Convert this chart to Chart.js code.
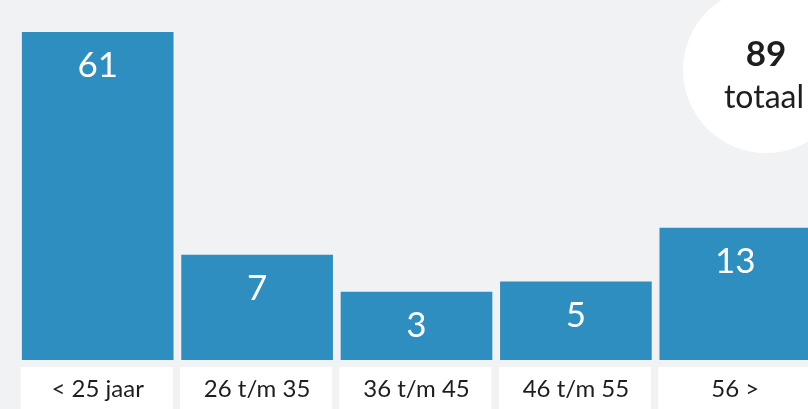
<!DOCTYPE html>
<html>
<head>
<meta charset="utf-8">
<script src="https://cdn.jsdelivr.net/npm/chart.js@4"></script>
<style>
  html, body { margin: 0; padding: 0; overflow: hidden; background: #f1f2f4; }
  #wrap { position: relative; width: 815px; height: 409px; }
  #total {
    position: absolute; left: 683px; top: -13px; width: 166px; height: 166px;
    border-radius: 50%; background: #ffffff; font-family: Lato, "Noto Sans", sans-serif;
    color: #1e1e1e; text-align: center;
  }
  #total .num { position: absolute; left: 0; width: 166px; top: 48px; font-size: 35px; font-weight: bold; line-height: 1; }
  #total .lbl { position: absolute; left: -2px; width: 166px; top: 93px; font-size: 32px; line-height: 1; }
</style>
</head>
<body>
<div id="wrap">
  <canvas id="c"></canvas>
  <div id="total"><div class="num" id="totNum"></div><div class="lbl" id="totLbl"></div></div>
</div>
<script>
// Categories (age groups)
const categories = ["< 25 jaar", "26 t/m 35", "36 t/m 45", "46 t/m 55", "56 >"];
// Counts printed on the bars
const counts = [61, 7, 3, 5, 13];
// Drawn bar lengths (percent of tallest bar)
const barLengths = [100, 32.0, 20.7, 23.8, 40.2];
const totalLabel = "totaal";

document.getElementById('totNum').textContent = counts.reduce((a, b) => a + b, 0);
document.getElementById('totLbl').textContent = totalLabel;

const boxPlugin = {
  id: 'boxes',
  beforeDraw(chart) {
    const ctx = chart.ctx;
    const x = chart.scales.x;
    ctx.save();
    ctx.fillStyle = '#ffffff';
    categories.forEach((c, i) => {
      const cx = x.getPixelForValue(i);
      ctx.fillRect(cx - 77, chart.chartArea.bottom + 7, 152, 60);
    });
    ctx.restore();
  }
};

const valuePlugin = {
  id: 'values',
  afterDatasetsDraw(chart) {
    const ctx = chart.ctx;
    const meta = chart.getDatasetMeta(0);
    ctx.save();
    ctx.fillStyle = '#ffffff';
    ctx.font = '35px Lato, "Noto Sans", sans-serif';
    ctx.textAlign = 'center';
    ctx.textBaseline = 'alphabetic';
    meta.data.forEach((bar, i) => {
      ctx.fillText(String(counts[i]), bar.x, bar.y + 45);
    });
    ctx.restore();
  }
};

new Chart(document.getElementById('c'), {
  type: 'bar',
  data: {
    labels: categories,
    datasets: [{
      data: barLengths,
      backgroundColor: '#2e8ec0',
      borderWidth: 0,
      barThickness: 151
    }]
  },
  options: {
    responsive: true,
    maintainAspectRatio: false,
    animation: false,
    layout: { padding: { left: 18, right: 0, top: 32, bottom: 0 } },
    plugins: { legend: { display: false }, tooltip: { enabled: false } },
    scales: {
      x: {
        grid: { display: false, drawTicks: false },
        border: { display: false },
        afterFit(scale) { scale.height = 49; },
        ticks: {
          padding: 15,
          color: '#1e1e1e',
          font: { family: 'Lato, "Noto Sans", sans-serif', size: 24 },
          maxRotation: 0, autoSkip: false
        }
      },
      y: { display: false, min: 0, max: 100 }
    }
  },
  plugins: [boxPlugin, valuePlugin]
});
</script>
</body>
</html>
